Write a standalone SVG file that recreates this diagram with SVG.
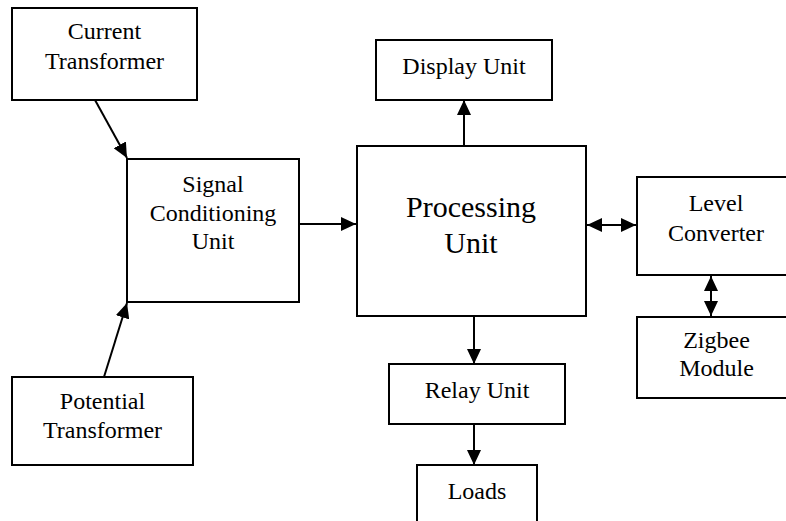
<svg xmlns="http://www.w3.org/2000/svg" width="786" height="521" viewBox="0 0 786 521">
  <style>
    .box { fill: #ffffff; stroke: #000000; stroke-width: 2; }
    .lbl { font-family: "Liberation Serif", "Times New Roman", serif; font-size: 24px; fill: #000000; text-anchor: middle; }
    .big { font-size: 30px; }
    .wire { stroke: #000000; stroke-width: 2; fill: none; }
  </style>
  <defs>
    <marker id="head" markerUnits="userSpaceOnUse" markerWidth="15" markerHeight="14" refX="15" refY="7" orient="auto-start-reverse">
      <path d="M0,0 L15,7 L0,14 Z" fill="#000000"/>
    </marker>
  </defs>
  <rect width="786" height="521" fill="#ffffff"/>

  <g id="current-transformer">
    <rect class="box" x="12" y="8" width="185" height="92"/>
    <text class="lbl" x="104.5" y="39">Current</text>
    <text class="lbl" x="104.5" y="69">Transformer</text>
  </g>

  <g id="potential-transformer">
    <rect class="box" x="12" y="377" width="181" height="88"/>
    <text class="lbl" x="102.5" y="409">Potential</text>
    <text class="lbl" x="102.5" y="438">Transformer</text>
  </g>

  <g id="signal-conditioning">
    <rect class="box" x="127" y="159" width="172" height="143"/>
    <text class="lbl" x="213" y="192">Signal</text>
    <text class="lbl" x="213" y="221">Conditioning</text>
    <text class="lbl" x="213" y="249">Unit</text>
  </g>

  <g id="processing-unit">
    <rect class="box" x="357" y="146" width="229" height="170"/>
    <text class="lbl big" x="471" y="217">Processing</text>
    <text class="lbl big" x="471" y="253">Unit</text>
  </g>

  <g id="display-unit">
    <rect class="box" x="376" y="40" width="176" height="60"/>
    <text class="lbl" x="464" y="74">Display Unit</text>
  </g>

  <g id="relay-unit">
    <rect class="box" x="389" y="364" width="176" height="60"/>
    <text class="lbl" x="477" y="398">Relay Unit</text>
  </g>

  <g id="loads">
    <rect class="box" x="417" y="465" width="120" height="70"/>
    <text class="lbl" x="477" y="499">Loads</text>
  </g>

  <g id="level-converter">
    <rect class="box" x="637" y="177" width="160" height="98"/>
    <text class="lbl" x="716" y="211">Level</text>
    <text class="lbl" x="716" y="241">Converter</text>
  </g>

  <g id="zigbee-module">
    <rect class="box" x="637" y="317" width="160" height="81"/>
    <text class="lbl" x="716.5" y="348">Zigbee</text>
    <text class="lbl" x="716.5" y="376">Module</text>
  </g>

  <g id="connectors">
    <line class="wire" x1="95" y1="100" x2="127" y2="158" marker-end="url(#head)"/>
    <line class="wire" x1="104" y1="377" x2="127" y2="303" marker-end="url(#head)"/>
    <line class="wire" x1="299" y1="224" x2="356" y2="224" marker-end="url(#head)"/>
    <line class="wire" x1="464" y1="146" x2="464" y2="100" marker-end="url(#head)"/>
    <line class="wire" x1="474" y1="316" x2="474" y2="364" marker-end="url(#head)"/>
    <line class="wire" x1="474" y1="424" x2="474" y2="465" marker-end="url(#head)"/>
    <line class="wire" x1="587" y1="225" x2="636" y2="225" marker-start="url(#head)" marker-end="url(#head)"/>
    <line class="wire" x1="711" y1="276" x2="711" y2="316" marker-start="url(#head)" marker-end="url(#head)"/>
  </g>
</svg>
